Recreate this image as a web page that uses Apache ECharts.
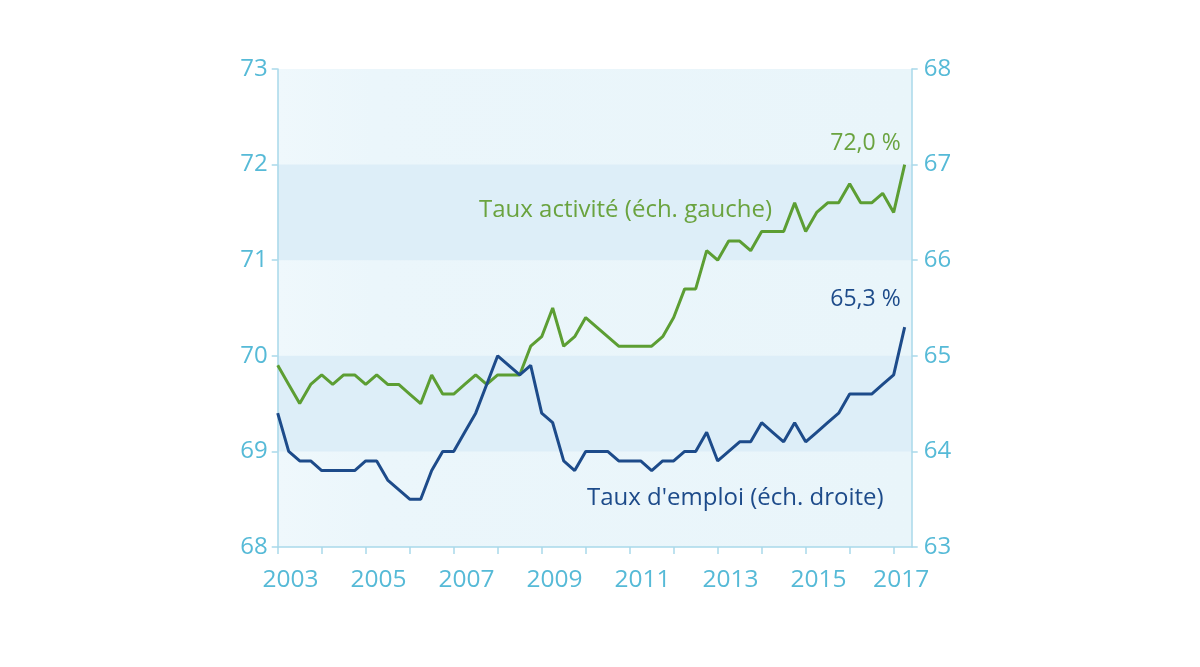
<!DOCTYPE html>
<html>
<head>
<meta charset="utf-8">
<script src="https://cdn.jsdelivr.net/npm/echarts@6/dist/echarts.min.js"></script>
<style>
  html, body { margin: 0; padding: 0; background: #ffffff; }
  #chart { width: 1200px; height: 667px; }
</style>
</head>
<body>
<div id="chart"></div>
<script>
// Quarterly observations, 2003 T1 to 2017 T2
const startYear = 2003;
const activityRate = [
  69.9, 69.7, 69.5, 69.7, 69.8, 69.7, 69.8, 69.8,
  69.7, 69.8, 69.7, 69.7, 69.6, 69.5, 69.8, 69.6,
  69.6, 69.7, 69.8, 69.7, 69.8, 69.8, 69.8, 70.1,
  70.2, 70.5, 70.1, 70.2, 70.4, 70.3, 70.2, 70.1,
  70.1, 70.1, 70.1, 70.2, 70.4, 70.7, 70.7, 71.1,
  71.0, 71.2, 71.2, 71.1, 71.3, 71.3, 71.3, 71.6,
  71.3, 71.5, 71.6, 71.6, 71.8, 71.6, 71.6, 71.7,
  71.5, 72.0
];
const employmentRate = [
  64.4, 64.0, 63.9, 63.9, 63.8, 63.8, 63.8, 63.8,
  63.9, 63.9, 63.7, 63.6, 63.5, 63.5, 63.8, 64.0,
  64.0, 64.2, 64.4, 64.7, 65.0, 64.9, 64.8, 64.9,
  64.4, 64.3, 63.9, 63.8, 64.0, 64.0, 64.0, 63.9,
  63.9, 63.9, 63.8, 63.9, 63.9, 64.0, 64.0, 64.2,
  63.9, 64.0, 64.1, 64.1, 64.3, 64.2, 64.1, 64.3,
  64.1, 64.2, 64.3, 64.4, 64.6, 64.6, 64.6, 64.7,
  64.8, 65.3
];
const yearTicks = [2003,2004,2005,2006,2007,2008,2009,2010,2011,2012,2013,2014,2015,2016,2017];
const yearLabels = [2003, 2005, 2007, 2009, 2011, 2013, 2015, 2017];
const leftTicks = [68, 73];   // min, max
const rightTicks = [63, 68];  // min, max
const activityName = "Taux activité (éch. gauche)";
const employmentName = "Taux d'emploi (éch. droite)";

const FONT = '"Open Sans"';
const GREEN = '#5c9e33';
const GREEN_TEXT = '#6aa33f';
const BLUE = '#1d4b8a';
const AXIS_LABEL = '#56bad7';
const AXIS_LINE = '#a9d9ea';

function toPairs(values) {
  return values.map((v, i) => [startYear + i / 4, v]);
}
const xMax = 2017.41;
const labelPositions = yearLabels.map(y => y === 2017 ? 2017.17 : y + 0.29);
const pctFormatter = (p) => p.value[1].toFixed(1).replace('.', ',') + ' %';

const chart = echarts.init(document.getElementById('chart'), null, { renderer: 'canvas' });
chart.setOption({
  animation: false,
  backgroundColor: '#ffffff',
  grid: {
    left: 277.7, right: 288.3, top: 69, bottom: 120,
    show: true,
    borderWidth: 0,
    backgroundColor: {
      type: 'linear', x: 0, y: 0, x2: 1, y2: 0,
      colorStops: [
        { offset: 0, color: '#eff8fc' },
        { offset: 0.15, color: '#ebf6fb' },
        { offset: 1, color: '#e9f5fa' }
      ]
    }
  },
  xAxis: {
    type: 'value',
    min: startYear,
    max: xMax,
    axisLine: { show: true, lineStyle: { color: AXIS_LINE, width: 1.5 } },
    axisTick: { show: true, length: 7, lineStyle: { color: AXIS_LINE, width: 1.5 }, customValues: yearTicks },
    axisLabel: {
      show: true,
      customValues: labelPositions,
      formatter: (v) => String(Math.floor(v)),
      color: AXIS_LABEL,
      fontFamily: FONT,
      fontSize: 24.5,
      margin: 21
    },
    splitLine: { show: false }
  },
  yAxis: [
    {
      type: 'value',
      min: leftTicks[0], max: leftTicks[1], interval: 1,
      position: 'left',
      axisLine: { show: true, lineStyle: { color: AXIS_LINE, width: 1.5 } },
      axisTick: { show: true, length: 6, lineStyle: { color: AXIS_LINE, width: 1.5 } },
      axisLabel: { color: AXIS_LABEL, fontFamily: FONT, fontSize: 24, margin: 10 },
      splitLine: { show: false },
      splitArea: { show: true, areaStyle: { color: ['rgba(0,0,0,0)', '#ddeef8'] } }
    },
    {
      type: 'value',
      min: rightTicks[0], max: rightTicks[1], interval: 1,
      position: 'right',
      axisLine: { show: true, lineStyle: { color: AXIS_LINE, width: 1.5 } },
      axisTick: { show: true, length: 6, lineStyle: { color: AXIS_LINE, width: 1.5 } },
      axisLabel: { color: AXIS_LABEL, fontFamily: FONT, fontSize: 24, margin: 12 },
      splitLine: { show: false },
      splitArea: { show: false }
    }
  ],
  series: [
    {
      name: activityName,
      type: 'line',
      yAxisIndex: 0,
      data: toPairs(activityRate),
      showSymbol: false,
      symbol: 'none',
      lineStyle: { color: GREEN, width: 3 },
      itemStyle: { color: GREEN },
      endLabel: {
        show: true,
        formatter: pctFormatter,
        color: GREEN_TEXT,
        fontFamily: FONT,
        fontSize: 23,
        distance: 0,
        align: 'right',
        verticalAlign: 'middle',
        offset: [-4, -21]
      },
      z: 3
    },
    {
      name: employmentName,
      type: 'line',
      yAxisIndex: 1,
      data: toPairs(employmentRate),
      showSymbol: false,
      symbol: 'none',
      lineStyle: { color: BLUE, width: 3 },
      itemStyle: { color: BLUE },
      endLabel: {
        show: true,
        formatter: pctFormatter,
        color: BLUE,
        fontFamily: FONT,
        fontSize: 23,
        distance: 0,
        align: 'right',
        verticalAlign: 'middle',
        offset: [-4, -28]
      },
      z: 4
    }
  ],
  graphic: {
    elements: [
      {
        id: 'activityText',
        type: 'text', x: 479, y: 210, z: 10,
        style: { text: activityName, fill: GREEN_TEXT, fontFamily: 'Open Sans', fontSize: 24, align: 'left', verticalAlign: 'middle' }
      },
      {
        id: 'employmentText',
        type: 'text', x: 587, y: 498, z: 10,
        style: { text: employmentName, fill: BLUE, fontFamily: 'Open Sans', fontSize: 24, align: 'left', verticalAlign: 'middle' }
      }
    ]
  }
});
</script>
</body>
</html>
